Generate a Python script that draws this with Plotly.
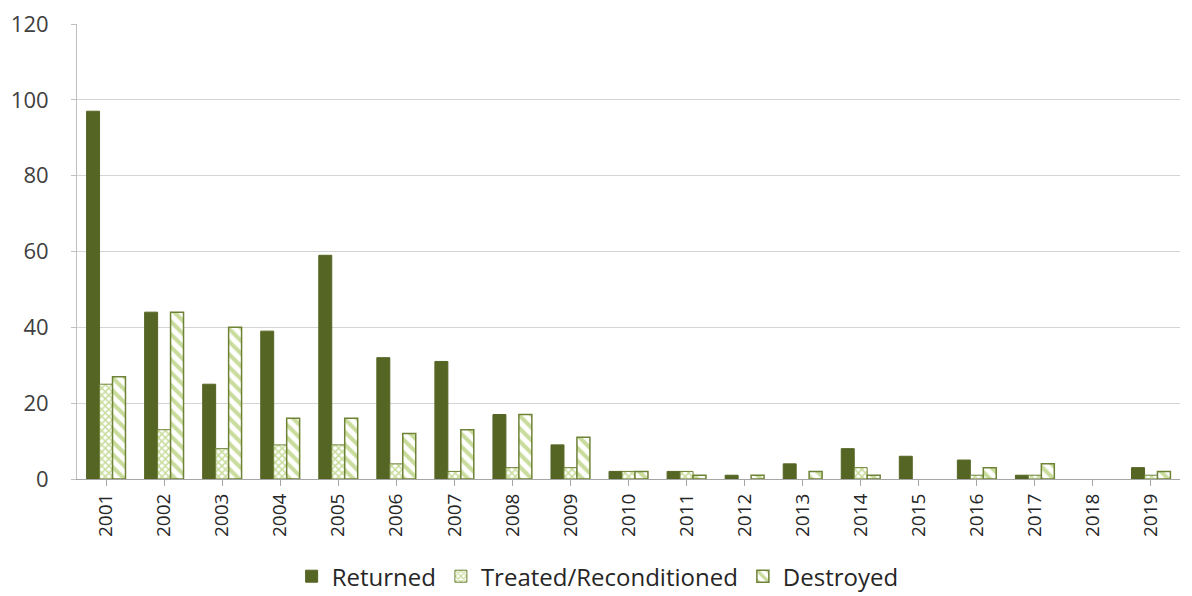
import plotly.graph_objects as go

years = [str(y) for y in range(2001, 2020)]
returned = [97, 44, 25, 39, 59, 32, 31, 17, 9, 2, 2, 1, 4, 8, 6, 5, 1, 0, 3]
treated = [25, 13, 8, 9, 9, 4, 2, 3, 3, 2, 2, 0, 0, 3, 0, 1, 1, 0, 1]
destroyed = [27, 44, 40, 16, 16, 12, 13, 17, 11, 2, 1, 1, 2, 1, 0, 3, 4, 0, 2]

dark = "#556524"
light = "#C9DC9C"
edge = "#6E8236"


def widths(vals, w):
    return [w if v > 0 else 0 for v in vals]


fig = go.Figure()
fig.add_trace(go.Bar(x=years, y=returned, name="Returned",
                     marker=dict(color=dark, line=dict(color=dark, width=widths(returned, 1)))))
fig.add_trace(go.Bar(x=years, y=treated, name="Treated/Reconditioned",
                     marker=dict(color="white", line=dict(color=edge, width=widths(treated, 1)),
                                 pattern=dict(shape="x", fgcolor=light, bgcolor="white",
                                              size=5, solidity=0.5, fillmode="replace"))))
fig.add_trace(go.Bar(x=years, y=destroyed, name="Destroyed",
                     marker=dict(color="white", line=dict(color=edge, width=widths(destroyed, 1.5)),
                                 pattern=dict(shape="\\", fgcolor=light, bgcolor="white",
                                              size=9, solidity=0.45, fillmode="replace"))))

fig.update_layout(
    width=1184, height=588,
    margin=dict(l=69, r=12, t=16, b=117),
    paper_bgcolor="white", plot_bgcolor="white",
    barmode="group", bargap=0.33, bargroupgap=0,
    font=dict(family="Open Sans", color="#404040"),
    showlegend=True,
    legend=dict(orientation="h", x=0.498, xanchor="center", xref="container",
                y=0.033, yanchor="middle", yref="container",
                font=dict(size=24, color="#262626"), itemwidth=30, traceorder="normal"),
    xaxis=dict(type="category", tickangle=-90, tickfont=dict(size=19, color="#262626"),
               showline=True, linecolor="#A6A6A6", linewidth=1, automargin=False,
               ticks="outside", ticklen=6, tickcolor="#A6A6A6", showgrid=False),
    yaxis=dict(range=[0, 120], dtick=20, tickfont=dict(size=22, color="#404040"),
               showgrid=True, gridcolor="#D4D4D4", gridwidth=1, automargin=False,
               showline=True, linecolor="#BFBFBF", linewidth=1,
               ticks="outside", ticklen=5, tickcolor="#BFBFBF", zeroline=False,
               ticklabelstandoff=18, ticklabeloverflow="allow"),
)

fig.write_html("out.html")
